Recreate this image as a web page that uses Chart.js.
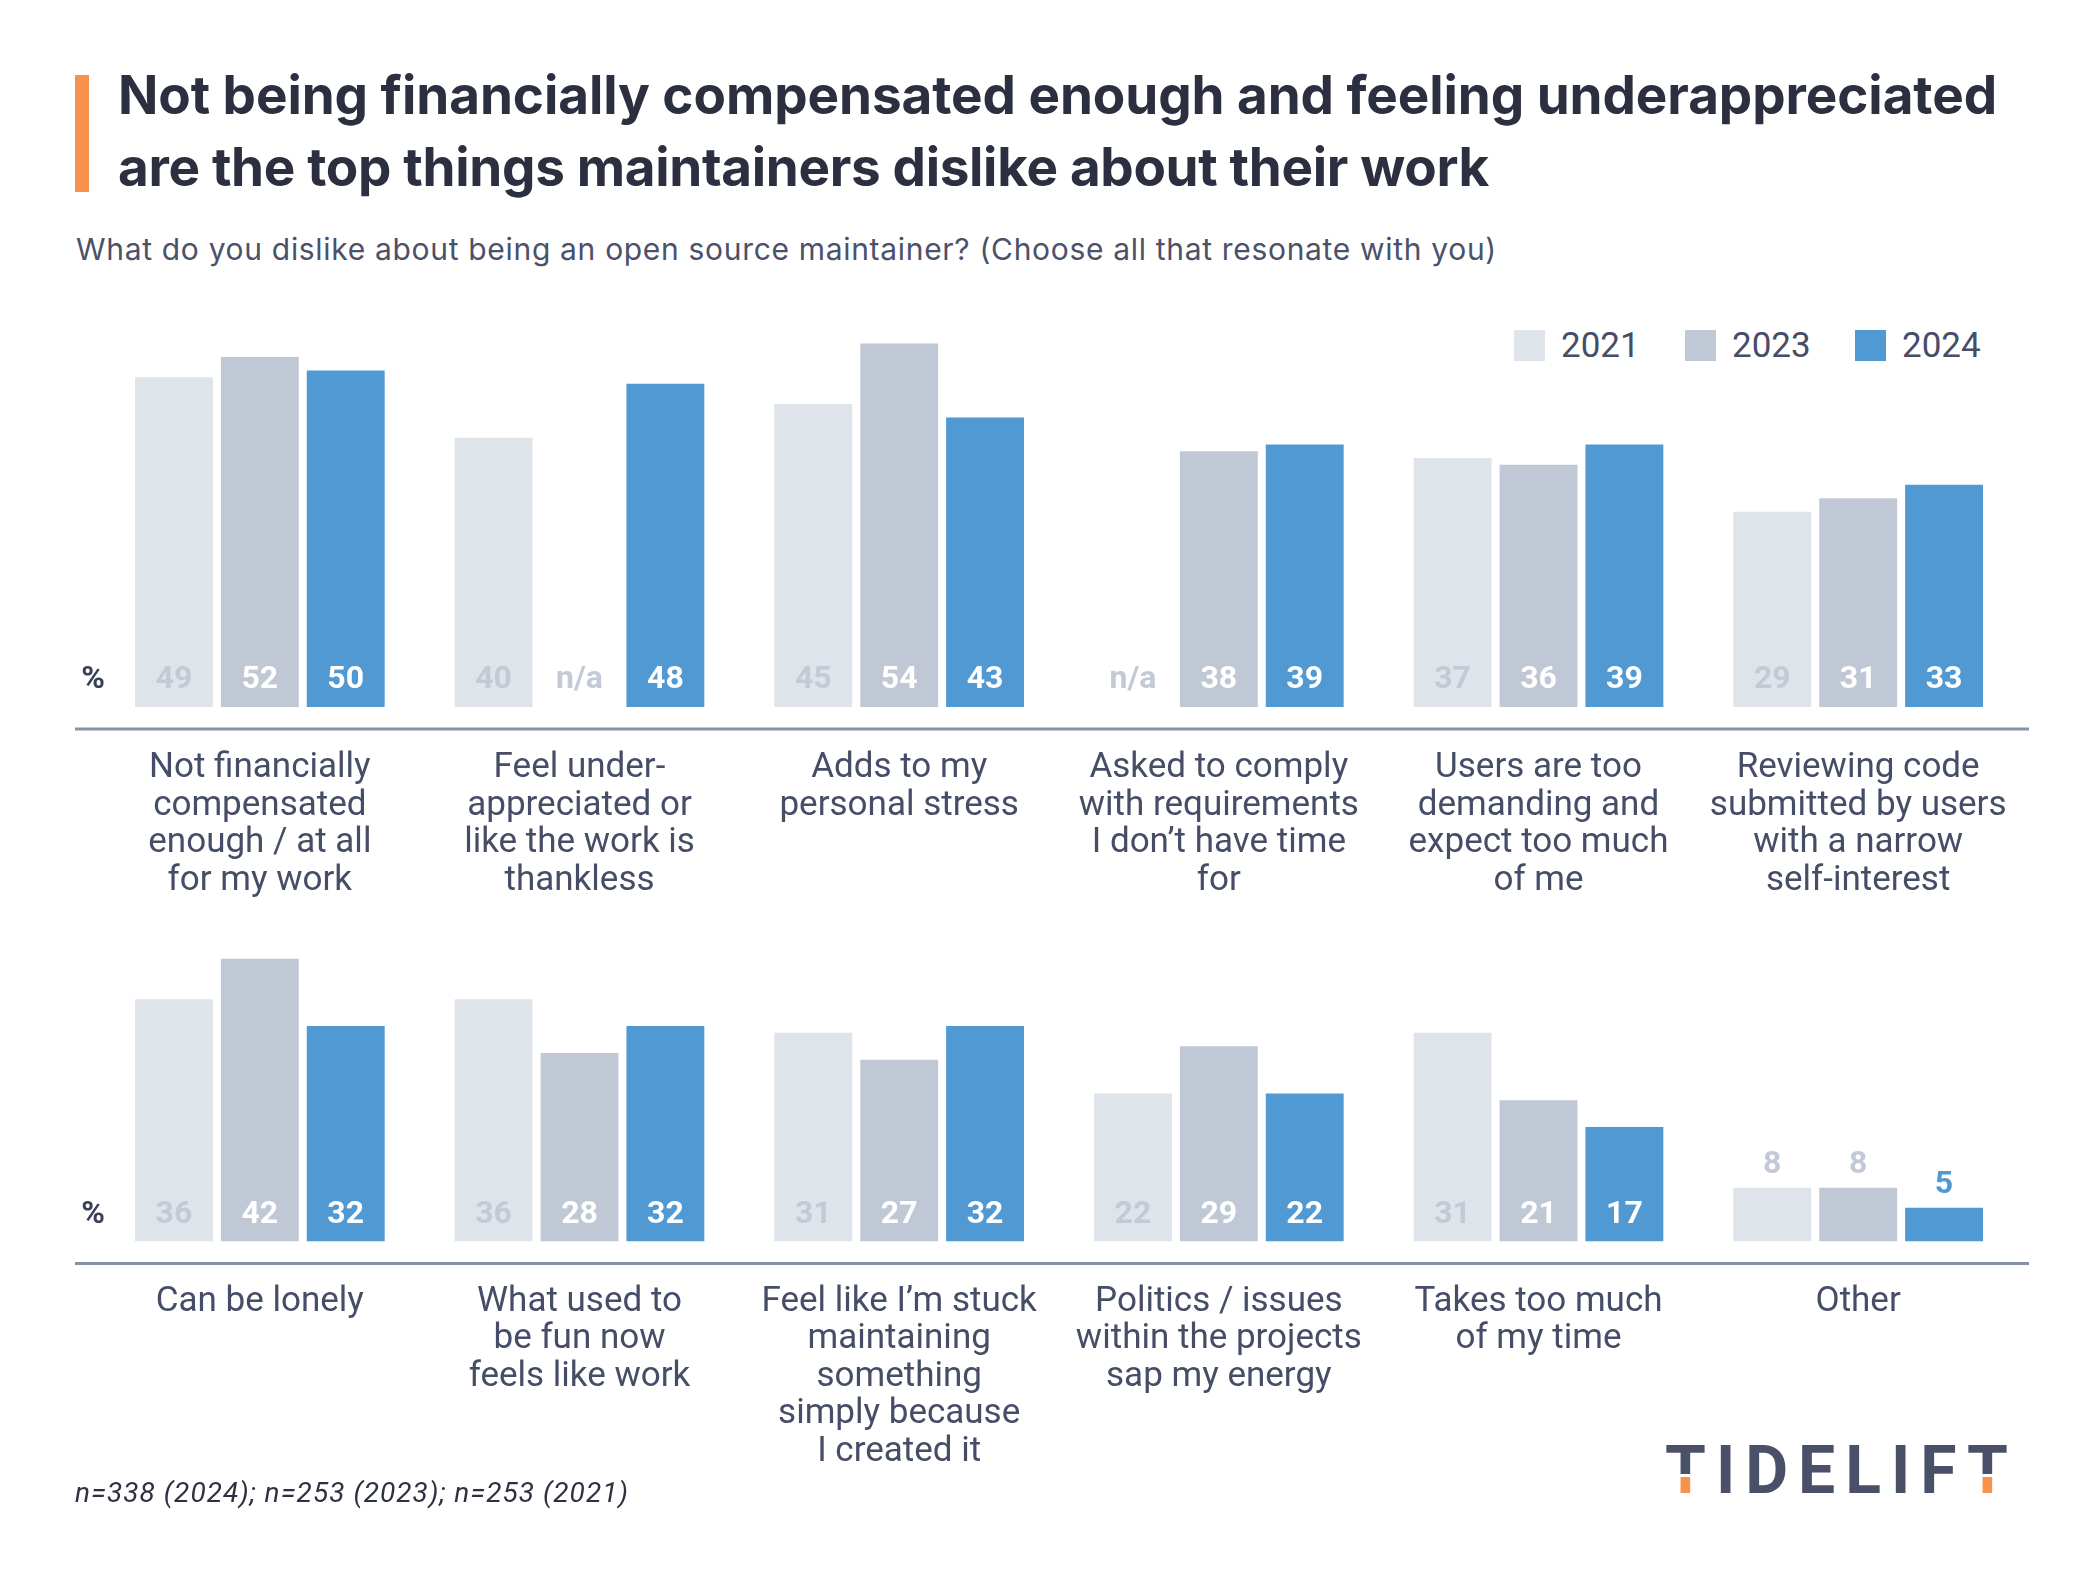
<!DOCTYPE html>
<html>
<head>
<meta charset="utf-8">
<script src="https://cdn.jsdelivr.net/npm/chart.js@4.4.1/dist/chart.umd.min.js"></script>
<style>
  html, body { margin: 0; padding: 0; background: #ffffff; }
  body { width: 2100px; height: 1595px; position: relative; overflow: hidden; font-family: Roboto, "Noto Sans", sans-serif; }
  .abs { position: absolute; white-space: nowrap; }
  #accent { left: 75px; top: 75px; width: 14px; height: 117px; background: #f7924c; }
  .title { left: 118px; font-family: Inter, Roboto, sans-serif; font-weight: 700; font-size: 53px; line-height: 53px; color: #2c2f40; }
  #sub { left: 76px; top: 234px; font-family: Inter, Roboto, sans-serif; font-size: 30px; line-height: 30px; color: #4b5169; }
  #legend { left: 0; top: 0; }
  .lg-sq { position: absolute; width: 31px; height: 31px; }
  .lg-tx { position: absolute; font-size: 35px; line-height: 35px; color: #464d66; }
  .panel { position: absolute; left: 0; width: 2100px; }
  #note { left: 75px; top: 1479px; font-size: 28px; line-height: 28px; font-style: italic; color: #2e3142; }
  #logo { left: 1665px; top: 1438px; font-size: 66px; line-height: 66px; font-weight: 700; color: #4a5068; letter-spacing: 10px; }
  #logo .t { background: linear-gradient(to bottom, #4a5068 0%, #4a5068 55%, #ffffff 55%, #ffffff 58%, #f7924c 58%, #f7924c 100%);
             -webkit-background-clip: text; background-clip: text; color: transparent; }
</style>
</head>
<body>
<div id="accent" class="abs"></div>
<div id="t1" class="abs title" style="top:69px">Not being financially compensated enough and feeling underappreciated</div>
<div id="t2" class="abs title" style="top:141px">are the top things maintainers dislike about their work</div>
<div id="sub" class="abs">What do you dislike about being an open source maintainer? (Choose all that resonate with you)</div>
<div id="legend" class="abs"></div>
<div class="panel" style="top:300px;height:620px"><canvas id="c1" width="2100" height="620"></canvas></div>
<div class="panel" style="top:840px;height:640px"><canvas id="c2" width="2100" height="640"></canvas></div>
<div id="note" class="abs">n=338 (2024); n=253 (2023); n=253 (2021)</div>
<div id="logo" class="abs"><span class="t">T</span>IDELIF<span class="t">T</span></div>

<script>
// ---------- DATA ----------
const seriesNames = ["2021", "2023", "2024"];

const topCategories = [
  ["Not financially", "compensated", "enough / at all", "for my work"],
  ["Feel under-", "appreciated or", "like the work is", "thankless"],
  ["Adds to my", "personal stress"],
  ["Asked to comply", "with requirements", "I don\u2019t have time", "for"],
  ["Users are too", "demanding and", "expect too much", "of me"],
  ["Reviewing code", "submitted by users", "with a narrow", "self-interest"]
];
const top2021 = [49, 40, 45, null, 37, 29];
const top2023 = [52, null, 54, 38, 36, 31];
const top2024 = [50, 48, 43, 39, 39, 33];

const bottomCategories = [
  ["Can be lonely"],
  ["What used to", "be fun now", "feels like work"],
  ["Feel like I\u2019m stuck", "maintaining", "something", "simply because", "I created it"],
  ["Politics / issues", "within the projects", "sap my energy"],
  ["Takes too much", "of my time"],
  ["Other"]
];
const bottom2021 = [36, 36, 31, 22, 31, 8];
const bottom2023 = [42, 28, 27, 29, 21, 8];
const bottom2024 = [32, 32, 32, 22, 17, 5];

const yMax = 56;

// ---------- STYLE ----------
const barColors = ["#dfe3ea", "#c1c8d5", "#5199d3"];
const insideLabelColors = ["#c3cad6", "#ffffff", "#ffffff"];
const outsideLabelColors = ["#c3cad6", "#c3cad6", "#5199d3"];
const naColor = "#c3cad6";

// legend
const legendX = [1514, 1685, 1855];
const legend = document.getElementById('legend');
seriesNames.forEach((n, i) => {
  const sq = document.createElement('div');
  sq.className = 'lg-sq';
  sq.style.left = legendX[i] + 'px'; sq.style.top = '330px'; sq.style.background = barColors[i];
  const tx = document.createElement('div');
  tx.className = 'lg-tx';
  tx.style.left = (legendX[i] + 47) + 'px'; tx.style.top = '328px';
  tx.textContent = n;
  legend.appendChild(sq); legend.appendChild(tx);
});

// fit text widths
function fitWidth(id, target) {
  const el = document.getElementById(id);
  el.style.letterSpacing = '0px';
  const w = el.getBoundingClientRect().width;
  const n = el.textContent.length;
  el.style.letterSpacing = ((target - w) / n) + 'px';
}

const valuePlugin = {
  id: 'valueLabels',
  afterDatasetsDraw(chart) {
    const ctx = chart.ctx;
    const area = chart.chartArea;
    const base = area.bottom;
    ctx.save();
    ctx.font = '700 32px Roboto';
    ctx.textAlign = 'center';
    ctx.textBaseline = 'middle';
    chart.data.datasets.forEach((ds, di) => {
      const meta = chart.getDatasetMeta(di);
      meta.data.forEach((el, i) => {
        const v = ds.data[i];
        if (v == null) {
          ctx.fillStyle = naColor;
          ctx.fillText('n/a', el.x, base - 27);
        } else if (base - el.y < 75) {
          ctx.fillStyle = outsideLabelColors[di];
          ctx.fillText(String(v), el.x, el.y - 23);
        } else {
          ctx.fillStyle = insideLabelColors[di];
          ctx.fillText(String(v), el.x, base - 27);
        }
      });
    });
    ctx.fillStyle = '#3a4058';
    ctx.fillText('%', area.left - 7, base - 27);
    ctx.strokeStyle = '#8592aa';
    ctx.lineWidth = 3;
    ctx.beginPath();
    ctx.moveTo(area.left - 25, base + 22);
    ctx.lineTo(area.right + 11, base + 22);
    ctx.stroke();
    ctx.restore();
  }
};

function makeChart(id, cats, d1, d2, d3, padTop, axisHeight, tickPad) {
  const data = [d1, d2, d3];
  return new Chart(document.getElementById(id), {
    type: 'bar',
    data: {
      labels: cats,
      datasets: seriesNames.map((n, i) => ({
        label: n,
        data: data[i],
        backgroundColor: barColors[i],
        borderWidth: 0,
        categoryPercentage: 0.806,
        barPercentage: 0.907
      }))
    },
    options: {
      responsive: false,
      animation: false,
      devicePixelRatio: 1,
      layout: { padding: { left: 100, right: 82, top: padTop, bottom: 0 } },
      plugins: { legend: { display: false }, tooltip: { enabled: false }, title: { display: false } },
      scales: {
        y: { display: false, min: 0, max: yMax },
        x: {
          grid: { display: false, drawTicks: false },
          border: { display: false },
          ticks: {
            autoSkip: false, maxRotation: 0, minRotation: 0, padding: tickPad,
            color: '#464d66',
            font: { family: 'Roboto', size: 35, lineHeight: 1.07 }
          },
          afterFit(scale) { scale.height = axisHeight; }
        }
      }
    },
    plugins: [valuePlugin]
  });
}

function draw() {
  fitWidth('t1', 1879);
  fitWidth('t2', 1371);
  fitWidth('sub', 1421);
  fitWidth('note', 554);
  makeChart('c1', topCategories, top2021, top2023, top2024, 30, 213, 43);
  makeChart('c2', bottomCategories, bottom2021, bottom2023, bottom2024, 24.5, 238.5, 42);
}
if (document.fonts && document.fonts.ready) {
  Promise.all([
    document.fonts.load('700 53px Inter'),
    document.fonts.load('30px Inter'),
    document.fonts.load('700 54px Roboto'),
    document.fonts.load('35px Roboto'),
    document.fonts.load('italic 28px Roboto')
  ]).then(draw, draw);
} else { draw(); }
</script>
</body>
</html>
